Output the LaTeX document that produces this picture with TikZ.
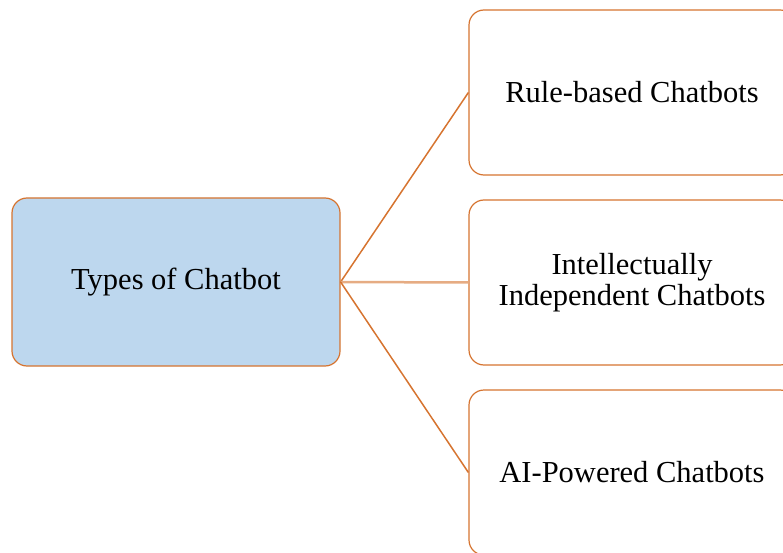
\documentclass[tikz,border=0pt]{standalone}
\usepackage{fontspec}
\setmainfont{Liberation Serif}
\usetikzlibrary{math}
\definecolor{myorange}{RGB}{214,116,48}
\definecolor{myblue}{RGB}{189,215,238}

\tikzset{
  box/.style={draw=myorange, line width=1.2pt, rounded corners=15pt, align=center,
    font=\fontsize{30.5}{31}\selectfont, inner sep=0pt},
  link/.style={draw=myorange, line width=1.5pt}
}

\begin{document}
\begin{tikzpicture}[x=1pt,y=-1pt]
\tikzmath{
\W=326; \H=165;
}
\useasboundingbox (0,0) rectangle (783,553);

\node[box, fill=myblue, minimum width=328, minimum height=168] (types) at (176,282) {Types of Chatbot};

\node[box, fill=white, minimum width=\W, minimum height=\H] (rule) at (632,92.5) {Rule-based Chatbots};
\node[box, fill=white, minimum width=\W, minimum height=\H] (intel) at (632,282.5) {Intellectually\\Independent Chatbots};
\node[box, fill=white, minimum width=\W, minimum height=\H] (ai) at (632,472.5) {AI-Powered Chatbots};

\draw[link] (types.east) -- (rule.west);
\draw[link, draw=myorange!60, line width=2.5pt] (types.east) -- (intel.west);
\draw[link] (types.east) -- (ai.west);

\end{tikzpicture}
\end{document}
